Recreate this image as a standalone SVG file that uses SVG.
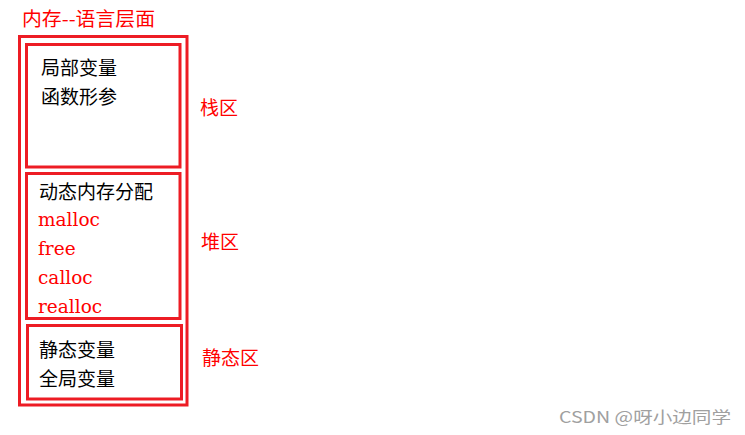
<svg xmlns="http://www.w3.org/2000/svg" width="745" height="435" viewBox="0 0 745 435">
<style>
.box{fill:none;stroke:#ed1c24;stroke-width:3}
.cjk{font-family:"Noto Sans CJK SC","Noto Sans",sans-serif;font-size:19px}
.blk{fill:#000}
.red{fill:#ff0000}
.lat{font-family:"DejaVu Serif","Liberation Serif",serif;font-size:18.5px;fill:#ff0000}
.wm{font-family:"Noto Sans CJK SC","Noto Sans",sans-serif;font-size:16px;fill:#a0a0a0}
</style>
<rect width="745" height="435" fill="#fff"/>
<text class="cjk red" x="22" y="26" textLength="133" lengthAdjust="spacingAndGlyphs">内存--语言层面</text>
<g id="memory">
<rect class="box" x="19.5" y="36.5" width="167.5" height="368.5"/>
</g>
<g id="stack">
<rect class="box" x="26.5" y="44.5" width="153.5" height="122.5"/>
<text class="cjk blk" x="41" y="75">局部变量</text>
<text class="cjk blk" x="41" y="104">函数形参</text>
<text class="cjk red" x="200" y="115">栈区</text>
</g>
<g id="heap">
<rect class="box" x="26.5" y="173.5" width="153.5" height="145"/>
<text class="cjk blk" x="39" y="199">动态内存分配</text>
<text class="lat" x="38" y="226">malloc</text>
<text class="lat" x="38" y="255">free</text>
<text class="lat" x="38" y="284">calloc</text>
<text class="lat" x="38" y="313">realloc</text>
<text class="cjk red" x="201" y="249">堆区</text>
</g>
<g id="static">
<rect class="box" x="27.5" y="325.5" width="154" height="73.5"/>
<text class="cjk blk" x="39" y="357">静态变量</text>
<text class="cjk blk" x="39" y="386">全局变量</text>
<text class="cjk red" x="202" y="365">静态区</text>
</g>
<g id="connectors"></g>
<text class="wm" x="559" y="423" textLength="172" lengthAdjust="spacingAndGlyphs">CSDN @呀小边同学</text>
</svg>
